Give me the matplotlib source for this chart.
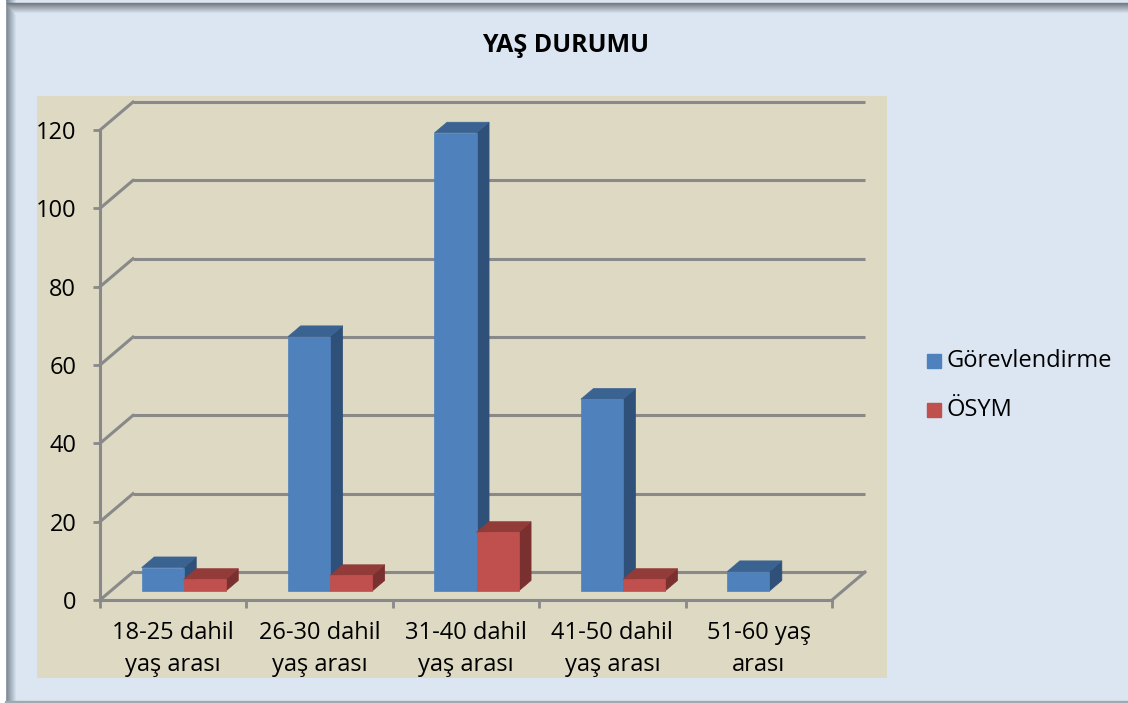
import matplotlib.pyplot as plt
from matplotlib.patches import Polygon, Rectangle
import numpy as np

# Veriler
kategoriler = ['18-25 dahil\nyaş arası', '26-30 dahil\nyaş arası', '31-40 dahil\nyaş arası',
               '41-50 dahil\nyaş arası', '51-60 yaş\narası']
gorevlendirme = [6, 65, 117, 49, 5]
osym = [3, 4, 15, 3, 0]
seri_adlari = ['Görevlendirme', 'ÖSYM']
y_ticks = [0, 20, 40, 60, 80, 100, 120]

# Renkler (ön, üst, yan)
renkler = [('#4f81bd', '#3b6392', '#2f5078'),
           ('#c0504d', '#923b39', '#7a302f')]
arka_renk = '#dce6f2'
alan_renk = '#ddd9c3'
cizgi_renk = '#898989'

plt.rcParams['font.family'] = ['Open Sans', 'DejaVu Sans']

# 3B görünüm için eğik izdüşüm
DX = 0.2254   # kategori birimi
DY = 7.15     # değer birimi
D0, D1 = 0.32, 0.70
GEN = 0.287


def proj(x, y, d):
    return (x + d * DX, y + d * DY)


fig = plt.figure(figsize=(11.28, 7.03), dpi=100)
fig.patch.set_facecolor(arka_renk)

# Çerçeve gölgesi (sol ve üst)
W, H = 1128, 703
for i in range(12):
    t = i / 11
    c = np.array([0.43, 0.48, 0.53]) * (1 - t) + np.array([0.86, 0.90, 0.95]) * t
    fig.patches.append(Rectangle(((5 + i) / W, 0), 1 / W, 1, transform=fig.transFigure,
                                 color=c, zorder=0))
for i in range(11):
    t = i / 10
    c = np.array([0.45, 0.47, 0.50]) * (1 - t) + np.array([0.86, 0.90, 0.95]) * t
    fig.patches.append(Rectangle(((5 + i) / W, 1 - (3 + i + 1) / H), 1, 1 / H,
                                 transform=fig.transFigure, color=c, zorder=0))
fig.patches.append(Rectangle((0, 0), 5 / W, 1, transform=fig.transFigure,
                             color='white', zorder=0))
fig.patches.append(Rectangle((5 / W, 0), 1, 2 / H, transform=fig.transFigure,
                             color='#a0a8b0', zorder=0))

ax = fig.add_axes([37 / W, 25 / H, 850 / W, 582 / H])
ax.set_facecolor(alan_renk)
ax.set_xlim(-0.430, 5.376)
ax.set_ylim(-19.9, 128.7)

n = len(kategoriler)

# Arka duvar ve yan duvar çizgileri
for v in y_ticks:
    x0, y0 = proj(0, v, 1)
    x1, y1 = proj(n, v, 1)
    ax.plot([x0, x1], [y0, y1], color=cizgi_renk, lw=2.2, zorder=1, solid_capstyle='butt')
    ax.plot([0, x0], [v, y0], color=cizgi_renk, lw=2.2, zorder=1)
xa, ya = proj(n, 0, 1)
ax.plot([n, xa], [0, ya], color=cizgi_renk, lw=2.2, zorder=1)


def kutu(x0, x1, h, renk):
    on, ust, yan = renk
    fr = [proj(x0, 0, D0), proj(x1, 0, D0), proj(x1, h, D0), proj(x0, h, D0)]
    tp = [proj(x0, h, D0), proj(x1, h, D0), proj(x1, h, D1), proj(x0, h, D1)]
    sd = [proj(x1, 0, D0), proj(x1, 0, D1), proj(x1, h, D1), proj(x1, h, D0)]
    for pts, c in ((sd, yan), (tp, ust), (fr, on)):
        ax.add_patch(Polygon(pts, closed=True, facecolor=c, edgecolor=c, lw=0.5, zorder=3))


seriler = [gorevlendirme, osym]
for i in range(n):
    for s, deger in enumerate(seriler):
        if deger[i] <= 0:
            continue
        x0 = i + 0.5 - GEN + s * GEN
        kutu(x0, x0 + GEN, deger[i], renkler[s])

# Eksenler
for k in ['top', 'right']:
    ax.spines[k].set_visible(False)
ax.spines['left'].set_position(('data', 0))
ax.spines['bottom'].set_position(('data', 0))
ax.spines['left'].set_bounds(0, 120)
ax.spines['bottom'].set_bounds(0, n)
for k in ['left', 'bottom']:
    ax.spines[k].set_color(cizgi_renk)
    ax.spines[k].set_linewidth(2.2)
    ax.spines[k].set_zorder(2)

ax.set_yticks(y_ticks)
ax.set_yticklabels([str(v) for v in y_ticks], fontsize=17)
ax.tick_params(axis='y', direction='out', length=5, width=2, color=cizgi_renk, pad=12)
ax.set_xticks(np.arange(n + 1))
ax.set_xticklabels([''] * (n + 1))
ax.set_xticks(np.arange(n) + 0.5, minor=True)
ax.set_xticklabels(kategoriler, minor=True, fontsize=17, linespacing=1.45)
ax.tick_params(axis='x', which='major', direction='out', length=6, width=2, color=cizgi_renk)
ax.tick_params(axis='x', which='minor', length=0, pad=15)

# Başlık
fig.text(566 / W, 1 - 46 / H, 'YAŞ DURUMU', ha='center', va='center',
         fontsize=18, fontweight='bold')

# Lejant
for s, ad in enumerate(seri_adlari):
    yy = 1 - (361 + s * 49) / H
    fig.patches.append(Rectangle((927 / W, yy - 7 / H), 14 / W, 14 / H,
                                 transform=fig.transFigure, color=renkler[s][0]))
    fig.text(946 / W, yy, ad, ha='left', va='center', fontsize=17)

plt.savefig('out.png', dpi=100, facecolor=fig.get_facecolor())
